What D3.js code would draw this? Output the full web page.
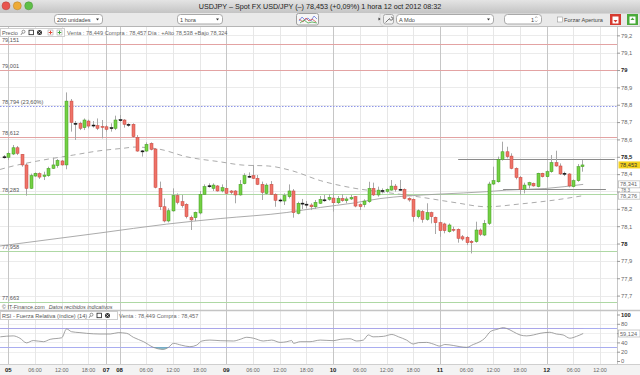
<!DOCTYPE html>
<html>
<head>
<meta charset="utf-8">
<script src="https://cdnjs.cloudflare.com/ajax/libs/d3/7.8.5/d3.min.js"></script>
<style>
body { margin: 0; background: #fff; }
svg text { font-family: "Liberation Sans", Arial, sans-serif; }
</style>
</head>
<body>
<svg id="chart" width="640" height="375"></svg>
<script>
// hourly bars, index 0 = fri 05 00:00 (weekend removed)
var firstBar = -1;
var openP = [78.500,78.497,78.516,78.552,78.514,78.453,78.318,78.389,78.403,78.387,78.391,78.433,78.449,78.476,78.453,78.821,78.693,78.693,78.668,78.706,78.683,78.679,78.675,78.673,78.668,78.664,78.714,78.712,78.687,78.687,78.612,78.533,78.533,78.577,78.545,78.318,78.212,78.130,78.188,78.276,78.241,78.226,78.151,78.149,78.176,78.283,78.332,78.318,78.332,78.303,78.318,78.303,78.303,78.280,78.345,78.387,78.391,78.376,78.341,78.289,78.341,78.283,78.251,78.245,78.270,78.303,78.174,78.232,78.226,78.222,78.212,78.232,78.251,78.255,78.262,78.235,78.260,78.247,78.257,78.270,78.224,78.224,78.241,78.318,78.280,78.305,78.301,78.308,78.331,78.312,78.312,78.260,78.255,78.155,78.184,78.139,78.178,78.151,78.120,78.113,78.068,78.082,78.082,78.039,78.036,78.013,78.011,78.078,78.049,78.116,78.343,78.356,78.485,78.529,78.504,78.433,78.381,78.312,78.337,78.347,78.328,78.405,78.385,78.414,78.466,78.447,78.405,78.401,78.328,78.362,78.443];
var highP = [78.510,78.529,78.568,78.562,78.516,78.462,78.403,78.410,78.410,78.414,78.443,78.495,78.487,78.481,78.871,78.833,78.706,78.702,78.721,78.714,78.706,78.721,78.712,78.683,78.693,78.737,78.741,78.717,78.693,78.693,78.625,78.539,78.583,78.583,78.549,78.357,78.260,78.203,78.318,78.289,78.280,78.232,78.161,78.184,78.303,78.341,78.347,78.347,78.337,78.341,78.366,78.308,78.308,78.366,78.405,78.410,78.453,78.395,78.357,78.347,78.360,78.289,78.260,78.289,78.341,78.314,78.241,78.257,78.245,78.232,78.251,78.274,78.280,78.285,78.289,78.274,78.285,78.270,78.280,78.274,78.232,78.255,78.356,78.351,78.328,78.318,78.318,78.366,78.343,78.366,78.318,78.266,78.260,78.197,78.193,78.232,78.184,78.155,78.126,78.120,78.116,78.097,78.087,78.049,78.043,78.020,78.126,78.087,78.136,78.356,78.443,78.501,78.587,78.558,78.520,78.439,78.389,78.351,78.356,78.351,78.408,78.408,78.424,78.510,78.535,78.462,78.414,78.405,78.370,78.458,78.481];
var lowP = [78.490,78.481,78.510,78.510,78.443,78.276,78.314,78.385,78.372,78.366,78.385,78.430,78.437,78.449,78.428,78.645,78.597,78.654,78.654,78.664,78.668,78.654,78.606,78.645,78.645,78.654,78.702,78.668,78.673,78.610,78.529,78.501,78.529,78.537,78.318,78.193,78.122,78.122,78.184,78.226,78.207,78.145,78.078,78.130,78.168,78.280,78.322,78.303,78.299,78.295,78.283,78.283,78.232,78.276,78.341,78.380,78.372,78.337,78.251,78.283,78.280,78.212,78.237,78.222,78.260,78.149,78.168,78.199,78.203,78.193,78.199,78.228,78.241,78.247,78.184,78.228,78.241,78.232,78.251,78.209,78.193,78.209,78.235,78.274,78.270,78.289,78.293,78.305,78.299,78.305,78.255,78.241,78.126,78.145,78.120,78.132,78.116,78.055,78.039,78.059,78.063,78.068,78.005,78.016,77.991,77.943,78.005,78.043,78.043,78.107,78.337,78.351,78.478,78.491,78.428,78.370,78.280,78.289,78.318,78.328,78.324,78.381,78.381,78.408,78.443,78.395,78.389,78.324,78.324,78.356,78.414];
var closeP = [78.500,78.520,78.552,78.520,78.453,78.318,78.391,78.405,78.383,78.395,78.433,78.453,78.479,78.453,78.821,78.698,78.691,78.664,78.712,78.677,78.682,78.664,78.670,78.658,78.667,78.712,78.713,78.687,78.686,78.616,78.533,78.534,78.571,78.543,78.324,78.212,78.130,78.189,78.276,78.237,78.218,78.155,78.136,78.180,78.283,78.328,78.333,78.337,78.303,78.322,78.289,78.295,78.280,78.341,78.391,78.388,78.376,78.341,78.295,78.337,78.283,78.249,78.250,78.276,78.303,78.178,78.232,78.233,78.227,78.212,78.237,78.255,78.252,78.266,78.235,78.260,78.247,78.257,78.266,78.216,78.213,78.245,78.318,78.280,78.308,78.306,78.312,78.331,78.312,78.313,78.260,78.251,78.155,78.189,78.139,78.178,78.155,78.120,78.074,78.074,78.107,78.078,78.030,78.026,78.005,78.005,78.078,78.053,78.116,78.343,78.362,78.485,78.529,78.501,78.433,78.381,78.312,78.337,78.351,78.332,78.405,78.385,78.414,78.466,78.447,78.401,78.404,78.332,78.362,78.443,78.453];

// moving averages (bar index, price)
var maSlowIdx = [-1.87, 20.6, 35.6, 47.6, 62.6, 70.1, 77.5, 83.5, 89.5, 97.0, 107.5, 112.0, 120.6, 129.2];
var maSlowVal = [77.986, 78.061, 78.112, 78.144, 78.179, 78.208, 78.233, 78.259, 78.274, 78.285, 78.299, 78.308, 78.317, 78.341];
var maFastIdx = [-1.87, 1.1, 5.6, 14.6, 20.6, 25.8, 28.5, 34.1, 40.1, 47.6, 52.8, 58.4, 63.7, 70.1, 77.5, 85.1, 92.5, 100.4, 107.5, 115.0, 124.0, 129.2];
var maFastVal = [78.427, 78.447, 78.471, 78.510, 78.535, 78.549, 78.556, 78.543, 78.500, 78.471, 78.452, 78.447, 78.420, 78.363, 78.320, 78.294, 78.268, 78.236, 78.212, 78.228, 78.255, 78.276];

// RSI (14)
var rsiIdx = [-1.8,1.1,2.6,4.1,5.6,7.9,9.4,12.0,13.1,14.2,16.1,17.6,20.6,22.9,24.7,26.6,28.1,30.4,32.6,34.8,36.0,37.1,38.9,40.8,42.3,43.5,45.3,47.6,50.6,52.1,53.6,55.1,57.3,59.2,61.1,62.6,63.7,64.1,65.6,67.8,70.1,73.1,74.6,76.8,78.3,79.8,80.9,82.0,84.3,86.2,87.7,89.5,91.0,92.2,94.0,95.5,97.0,98.1,100.0,101.5,103.0,104.5,106.0,107.1,108.3,109.8,111.3,112.0,113.5,115.0,116.5,118.0,119.5,121.7,123.2,124.7,126.2,127.7,129.2];
var rsiVal = [52,54,49,39,44,41.5,46.6,50,69,63,61,59.5,58,58,61,59.5,51,41.5,29.4,25,29.4,38,34,30.8,34,43,45,43.7,43,46.6,51,49,43,45,40,41.5,44,38,41.5,41.5,45,43.7,46.6,47.8,43,45,56,52,53,57,52,45,36.5,39.5,40,36.5,32,35.5,33.4,30.8,29.4,35.5,41.5,49,63,68,71.6,70,63,56,54,56,59.5,61.7,58,56,49,53,59.1];

// levels drawn on the chart
var redLevels = [79.151, 79.001, 78.612];
var fibLevels = [78.794];
var fibNames = ["78,794 (23,60%)"];
var greenLevels = [78.283, 77.958, 77.663];
var lineFrom = [101.1, 111.2];
var lineTo = [136.3, 134.3];
var linePrice = [78.485, 78.312];

// time axis
var tickIdx = [0,6,12,18,22,25,31,37,43,49,55,61,67,73,79,85,91,97,103,109,115,121,127,133];
var tickLab = ["05","06:00","12:00","18:00","07","08","06:00","12:00","18:00","09","06:00","12:00","18:00","10","06:00","12:00","18:00","11","06:00","12:00","18:00","12","06:00","12:00"];
var lastPrice = 78.453, maSlowLast = 78.341, maFastLast = 78.276, rsiLast = 59.124;

var W = 640, H = 375, plotR = 617;
var pTop = 27, pBot = 310, rTop = 311, rBot = 364;

var x = d3.scaleLinear().domain([-1.87, 136.8]).range([0, plotR]);
var y = d3.scaleLinear().domain([77.617, 79.248]).range([pBot, pTop]);
var yr = d3.scaleLinear().domain([0, 100]).range([361, 314.5]);

var loc = d3.formatLocale({decimal: ",", thousands: ".", grouping: [3], currency: ["", ""]});
var fTick = loc.format(".3~r"), f3 = loc.format(".3f");

var bars = openP.map(function(o, i) {
  return {i: i + firstBar, o: o, h: highP[i], l: lowP[i], c: closeP[i]};
});

var svg = d3.select("#chart");
var defs = svg.append("defs");
var gr = defs.append("linearGradient").attr("id", "tb").attr("x1", 0).attr("y1", 0).attr("x2", 0).attr("y2", 1);
gr.append("stop").attr("offset", "0%").attr("stop-color", "#e4e4e4");
gr.append("stop").attr("offset", "100%").attr("stop-color", "#c4c4c4");
defs.append("clipPath").attr("id", "pclip").append("rect")
    .attr("x", 0).attr("y", pTop).attr("width", plotR).attr("height", pBot - pTop);
defs.append("clipPath").attr("id", "hiclip").append("rect")
    .attr("x", 0).attr("y", rTop).attr("width", plotR).attr("height", yr(70) - rTop);
defs.append("clipPath").attr("id", "loclip").append("rect")
    .attr("x", 0).attr("y", yr(30)).attr("width", plotR).attr("height", rBot - yr(30));

// ---- window title + toolbar
svg.append("rect").attr("width", W).attr("height", 13).attr("fill", "url(#tb)");
svg.append("rect").attr("y", 13).attr("width", W).attr("height", 14).attr("fill", "#e9e9e9");
svg.append("line").attr("x1", 0).attr("x2", W).attr("y1", 26.5).attr("y2", 26.5).attr("stroke", "#b5b5b5");
[["#e9554e", 6], ["#eeab35", 17.3], ["#5fbf48", 28.7]].forEach(function(b) {
  svg.append("circle").attr("cx", b[1]).attr("cy", 5.8).attr("r", 4)
      .attr("fill", b[0]).attr("stroke", d3.color(b[0]).darker(0.8)).attr("stroke-width", 0.5);
});
svg.append("text").attr("x", 320).attr("y", 9).attr("text-anchor", "middle")
    .attr("font-size", 7.2).attr("fill", "#222")
    .text("USDJPY \u2013 Spot FX USD/JPY (\u2013)   78,453 (+0,09%)   1 hora  12 oct 2012 08:32");

function dropBox(x0, x1, label, arrow) {
  svg.append("rect").attr("x", x0 + 0.5).attr("y", 14.5).attr("width", x1 - x0).attr("height", 9.5)
      .attr("rx", 3).attr("fill", "#fff").attr("stroke", "#a9a9a9");
  svg.append("text").attr("x", x0 + 3).attr("y", 21.5).attr("font-size", 5.6).attr("fill", "#444").text(label);
  if (arrow) svg.append("path").attr("d", "M" + (x1 - 6) + ",18.5h3l-1.5,2z").attr("fill", "#333");
}
dropBox(54, 102, "200 unidades", true);
dropBox(177, 222, "1 hora", true);
dropBox(396, 493, "A Mdo", true);
dropBox(504, 541, "", false);
svg.append("text").attr("x", 531).attr("y", 21.5).attr("font-size", 5.6).attr("fill", "#444").text("1");
svg.append("path").attr("d", "M535,18l1.2,-1.5l1.2,1.5M535,20.5l1.2,1.5l1.2,-1.5").attr("fill", "none").attr("stroke", "#777").attr("stroke-width", 0.5);
// chart icon
svg.append("rect").attr("x", 296.5).attr("y", 13.5).attr("width", 22).attr("height", 11.5).attr("rx", 2)
    .attr("fill", "#f6f6f6").attr("stroke", "#a0a0a0");
svg.append("polyline").attr("points", "299,21 302,17 305,20 308,18 311,21 314,16 317,19")
    .attr("fill", "none").attr("stroke", "#6a7de0").attr("stroke-width", 0.8);
svg.append("polyline").attr("points", "299,19 303,22 306,18 309,21 312,19 316,22")
    .attr("fill", "none").attr("stroke", "#d05050").attr("stroke-width", 0.8);
svg.append("polyline").attr("points", "300,23 304,20 308,23 312,22 317,23")
    .attr("fill", "none").attr("stroke", "#4aa84a").attr("stroke-width", 0.8);
// right controls group
svg.append("path").attr("d", "M380,13.5h260v13h-255a5,5 0 0 1 -5,-5z").attr("fill", "none").attr("stroke", "#c8c8c8").attr("stroke-width", 0.6);
svg.append("path").attr("d", "M378.5,17.5l2,1.5l-2,1.5z").attr("fill", "#333");
svg.append("rect").attr("x", 383.5).attr("y", 14.5).attr("width", 10).attr("height", 9.5).attr("rx", 2)
    .attr("fill", "#f3f3f3").attr("stroke", "#a9a9a9");
svg.append("path").attr("d", "M385.5,22.5l4,-4m0,0a1.6,1.6 0 1 0 1.5,-1.5").attr("fill", "none").attr("stroke", "#555").attr("stroke-width", 0.8);
svg.append("rect").attr("x", 557.5).attr("y", 17).attr("width", 5).attr("height", 5).attr("fill", "#fff").attr("stroke", "#999").attr("stroke-width", 0.6);
svg.append("text").attr("x", 564).attr("y", 21.5).attr("font-size", 5.6).attr("fill", "#444").text("Forzar Apertura");
function docIcon(x0, col, up) {
  svg.append("rect").attr("x", x0).attr("y", 14).attr("width", 11).attr("height", 11).attr("fill", col);
  svg.append("path").attr("d", "M" + (x0 + 2.5) + ",16.5h6v7h-6z").attr("fill", "#fff");
  svg.append("path").attr("d", up ? "M" + (x0 + 5.5) + ",17.5l2,2.5h-4z" : "M" + (x0 + 5.5) + ",22.5l2,-2.5h-4z").attr("fill", col);
}
docIcon(610, "#d63a2f", false);
docIcon(627, "#4aaa3a", true);

// ---- plot backgrounds
svg.append("rect").attr("x", 0).attr("y", pTop).attr("width", W).attr("height", rBot - pTop).attr("fill", "#fff");
svg.append("rect").attr("x", 0).attr("y", rBot).attr("width", W).attr("height", H - rBot).attr("fill", "#f3f3f3");
svg.append("line").attr("x1", 0).attr("x2", W).attr("y1", rBot + 0.5).attr("y2", rBot + 0.5).attr("stroke", "#cfcfcf");

var priceTicks = d3.range(777, 793).map(function(d) { return d / 10; });
var rsiTicks = [0, 20, 40, 60, 80, 100];

// horizontal grid
svg.append("g").selectAll("line").data(priceTicks).enter().append("line")
    .attr("x1", 0).attr("x2", plotR)
    .attr("y1", function(d) { return Math.round(y(d)) + 0.5; })
    .attr("y2", function(d) { return Math.round(y(d)) + 0.5; })
    .attr("stroke", "#ebebeb");
svg.append("g").selectAll("line").data([20, 40, 60, 80]).enter().append("line")
    .attr("x1", 0).attr("x2", plotR)
    .attr("y1", function(d) { return Math.round(yr(d)) + 0.5; })
    .attr("y2", function(d) { return Math.round(yr(d)) + 0.5; })
    .attr("stroke", "#efefef");

// vertical grid
function isDay(s) { return s.indexOf(":") < 0; }
svg.append("g").selectAll("line").data(tickIdx).enter().append("line")
    .attr("x1", function(d) { return Math.round(x(d)) + 0.5; })
    .attr("x2", function(d) { return Math.round(x(d)) + 0.5; })
    .attr("y1", pTop).attr("y2", rBot)
    .attr("stroke", function(d, i) { return isDay(tickLab[i]) ? "#c6c6c6" : "#e7e7e7"; });

// level lines
var lv = svg.append("g");
lv.selectAll(".red").data(redLevels).enter().append("line")
    .attr("x1", 0).attr("x2", plotR)
    .attr("y1", function(d) { return Math.round(y(d)) + 0.5; })
    .attr("y2", function(d) { return Math.round(y(d)) + 0.5; })
    .attr("stroke", "#e3a3a3");
lv.selectAll(".fib").data(fibLevels).enter().append("line")
    .attr("x1", 0).attr("x2", plotR)
    .attr("y1", function(d) { return Math.round(y(d)) + 0.5; })
    .attr("y2", function(d) { return Math.round(y(d)) + 0.5; })
    .attr("stroke", "#8e96ea").attr("stroke-dasharray", "1.5,1.5");
lv.selectAll(".grn").data(greenLevels).enter().append("line")
    .attr("x1", 0).attr("x2", plotR)
    .attr("y1", function(d) { return Math.round(y(d)) + 0.5; })
    .attr("y2", function(d) { return Math.round(y(d)) + 0.5; })
    .attr("stroke", "#aed8a4");
var lvLabels = redLevels.map(f3).concat(fibNames).concat(greenLevels.map(f3));
var lvVals = redLevels.concat(fibLevels).concat(greenLevels);
lv.selectAll("text").data(lvVals).enter().append("text")
    .attr("x", 2).attr("y", function(d) { return y(d) - 2; })
    .attr("font-size", 5.6).attr("fill", "#555")
    .text(function(d, i) { return lvLabels[i]; });

// moving averages
var line = d3.line().curve(d3.curveMonotoneX);
var pg = svg.append("g").attr("clip-path", "url(#pclip)");
pg.append("path")
    .attr("d", line(maSlowIdx.map(function(d, i) { return [x(d), y(maSlowVal[i])]; })))
    .attr("fill", "none").attr("stroke", "#a2a2a2").attr("stroke-width", 0.9);
pg.append("path")
    .attr("d", line(maFastIdx.map(function(d, i) { return [x(d), y(maFastVal[i])]; })))
    .attr("fill", "none").attr("stroke", "#a2a2a2").attr("stroke-width", 0.9).attr("stroke-dasharray", "5,4");
// drawn horizontal lines
pg.selectAll(".tl").data(linePrice).enter().append("line")
    .attr("x1", function(d, i) { return x(lineFrom[i]); })
    .attr("x2", function(d, i) { return x(lineTo[i]); })
    .attr("y1", function(d) { return Math.round(y(d)) + 0.5; })
    .attr("y2", function(d) { return Math.round(y(d)) + 0.5; })
    .attr("stroke", "#8a8a8a");

// candles
var cg = pg.selectAll(".c").data(bars).enter().append("g");
cg.append("line")
    .attr("x1", function(d) { return Math.round(x(d.i)) + 0.5; })
    .attr("x2", function(d) { return Math.round(x(d.i)) + 0.5; })
    .attr("y1", function(d) { return y(d.h); })
    .attr("y2", function(d) { return y(d.l); })
    .attr("stroke", "#a8a8a8");
cg.append("rect")
    .attr("x", function(d) { return Math.round(x(d.i)) - 1; })
    .attr("width", 3)
    .attr("y", function(d) { return y(Math.max(d.o, d.c)); })
    .attr("height", function(d) { return Math.max(1, Math.abs(y(d.o) - y(d.c))); })
    .attr("fill", function(d) {
      if (Math.abs(d.o - d.c) < 0.003) return "#111";
      return d.c > d.o ? "#74d044" : "#ee7368";
    })
    .attr("stroke", function(d) {
      if (Math.abs(d.o - d.c) < 0.003) return "#111";
      return d.c > d.o ? "#3e9a1e" : "#c8443c";
    })
    .attr("stroke-width", 0.5);

// RSI panel
var rl = svg.append("g");
rl.selectAll("line").data([70, 30]).enter().append("line")
    .attr("x1", 0).attr("x2", plotR)
    .attr("y1", function(d) { return Math.round(yr(d)) + 0.5; })
    .attr("y2", function(d) { return Math.round(yr(d)) + 0.5; })
    .attr("stroke", "#a9adf0");
var rsiPts = rsiIdx.map(function(d, i) { return [x(d), yr(rsiVal[i])]; });
var area = d3.area().curve(d3.curveMonotoneX).x(function(d) { return d[0]; }).y1(function(d) { return d[1]; });
rl.append("path").attr("clip-path", "url(#hiclip)")
    .attr("d", area.y0(yr(70))(rsiPts)).attr("fill", "#b48ad0").attr("opacity", 0.7);
rl.append("path").attr("clip-path", "url(#loclip)")
    .attr("d", area.y0(yr(30))(rsiPts)).attr("fill", "#5ea8b8").attr("opacity", 0.7);
rl.append("path").attr("d", line(rsiPts)).attr("fill", "none").attr("stroke", "#8c8c8c").attr("stroke-width", 0.8);

// texts in panels
svg.append("rect").attr("x", 0.5).attr("y", 28.5).attr("width", 64).attr("height", 8).attr("fill", "#fff").attr("stroke", "#cfcfcf");
svg.append("text").attr("x", 2).attr("y", 35).attr("font-size", 5.6).attr("fill", "#555").text("Precio");
function icons(x0, yc, withPlus) {
  svg.append("circle").attr("cx", x0 + 2.5).attr("cy", yc - 0.8).attr("r", 1.5).attr("fill", "none").attr("stroke", "#555").attr("stroke-width", 0.6);
  svg.append("line").attr("x1", x0 + 1.3).attr("y1", yc + 0.5).attr("x2", x0).attr("y2", yc + 2.3).attr("stroke", "#555").attr("stroke-width", 0.8);
  svg.append("rect").attr("x", x0 + 8).attr("y", yc - 2.3).attr("width", 4.5).attr("height", 4.5).attr("fill", "#fff").attr("stroke", "#222").attr("stroke-width", 0.8);
  svg.append("circle").attr("cx", x0 + 18.5).attr("cy", yc).attr("r", 2.5).attr("fill", "#333");
  svg.append("path").attr("d", "M" + (x0 + 17.3) + "," + (yc - 1.2) + "l2.4,2.4m0,-2.4l-2.4,2.4").attr("stroke", "#fff").attr("stroke-width", 0.6);
  if (withPlus) {
    [["#e04a3a", 27], ["#3fa63a", 36]].forEach(function(p) {
      svg.append("rect").attr("x", x0 + p[1]).attr("y", yc - 2.5).attr("width", 5).attr("height", 5)
          .attr("fill", "#fff").attr("stroke", "#999").attr("stroke-width", 0.5);
      svg.append("path").attr("d", "M" + (x0 + p[1] + 2.5) + "," + (yc - 1.8) + "v3.6m-1.8,-1.8h3.6").attr("stroke", p[0]).attr("stroke-width", 1);
    });
  }
}
icons(21, 32.5, true);
svg.append("text").attr("x", 67).attr("y", 35).attr("font-size", 5.6).attr("fill", "#666")
    .text("Venta : 78,449 Compra : 78,457 D\u00eda : +Alto 78,538 +Bajo 78,324");
var cp = svg.append("text").attr("x", 2).attr("y", 308.5).attr("font-size", 5.4).attr("fill", "#555");
cp.append("tspan").text("\u00a9 IT-Finance.com");
cp.append("tspan").attr("dx", 4).attr("font-style", "italic").text("Datos recibidos indicativos");
svg.append("rect").attr("x", 0.5).attr("y", 311.5).attr("width", 117).attr("height", 8).attr("fill", "#fff").attr("stroke", "#cfcfcf");
svg.append("text").attr("x", 2).attr("y", 318).attr("font-size", 5.6).attr("fill", "#555")
    .text("RSI - Fuerza Relativa (\u00edndice) (14)");
icons(89, 315.5, false);
svg.append("text").attr("x", 119).attr("y", 318).attr("font-size", 5.6).attr("fill", "#666")
    .text("Venta : 78,449 Compra : 78,457");

// right axis
svg.append("rect").attr("x", plotR).attr("y", pTop).attr("width", W - plotR).attr("height", rBot - pTop).attr("fill", "#fff");
svg.append("line").attr("x1", plotR + 0.5).attr("x2", plotR + 0.5).attr("y1", pTop).attr("y2", rBot).attr("stroke", "#c8c8c8");
svg.append("line").attr("x1", 0).attr("x2", W).attr("y1", 310.5).attr("y2", 310.5).attr("stroke", "#c4c4c4").attr("stroke-width", 1.5);
var ra = svg.append("g").attr("transform", "translate(" + plotR + ",0)")
    .call(d3.axisRight(y).tickValues(priceTicks).tickSize(3).tickFormat(fTick));
// the 60 label sits under the RSI value box, as in the original
var rb = svg.append("g").attr("transform", "translate(" + plotR + ",0)")
    .call(d3.axisRight(yr).tickValues(rsiTicks).tickSize(3).tickFormat(function(d) { return d === 60 ? "" : d; }));
[ra, rb].forEach(function(a) {
  a.select(".domain").remove();
  a.selectAll("line").attr("stroke", "#999");
  a.selectAll("text").attr("x", 4).attr("font-size", 5.8).attr("fill", "#666").attr("font-family", "Liberation Sans, Arial, sans-serif");
});
ra.selectAll("text").filter(function(d) { return Math.abs(d * 2 - Math.round(d * 2)) < 1e-6; })
    .attr("font-weight", "bold").attr("fill", "#222");
ra.selectAll("text").filter(function(d) { return Math.abs(d - 78.3) < 1e-6; })
    .attr("font-size", 4.6).attr("dy", "0.1em");
rb.selectAll("text").filter(function(d) { return d === 100; }).attr("font-weight", "bold").attr("fill", "#222");

function valueBox(yy, txt, bg, col) {
  svg.append("rect").attr("x", plotR + 1.5).attr("y", yy - 3.5).attr("width", 21.5).attr("height", 7)
      .attr("fill", bg).attr("stroke", bg === "#fff" ? "#aaa" : "none").attr("stroke-width", 0.6);
  svg.append("text").attr("x", plotR + 3).attr("y", yy + 2).attr("font-size", 5.6).attr("fill", col).text(txt);
}
valueBox(y(maSlowLast), f3(maSlowLast), "#fff", "#666");
valueBox(y(maFastLast), f3(maFastLast), "#fff", "#666");
valueBox(y(lastPrice), f3(lastPrice), "#f5d21e", "#333");
valueBox(yr(rsiLast), f3(rsiLast), "#fff", "#666");

// time axis
var ta = svg.append("g");
ta.selectAll("text").data(tickIdx).enter().append("text")
    .attr("x", function(d) { return x(d); })
    .attr("y", 372)
    .attr("text-anchor", "middle")
    .attr("font-size", function(d, i) { return isDay(tickLab[i]) ? 6 : 5.4; })
    .attr("font-weight", function(d, i) { return isDay(tickLab[i]) ? "bold" : "normal"; })
    .attr("fill", function(d, i) { return isDay(tickLab[i]) ? "#222" : "#666"; })
    .text(function(d, i) { return tickLab[i]; });
</script>
</body>
</html>
